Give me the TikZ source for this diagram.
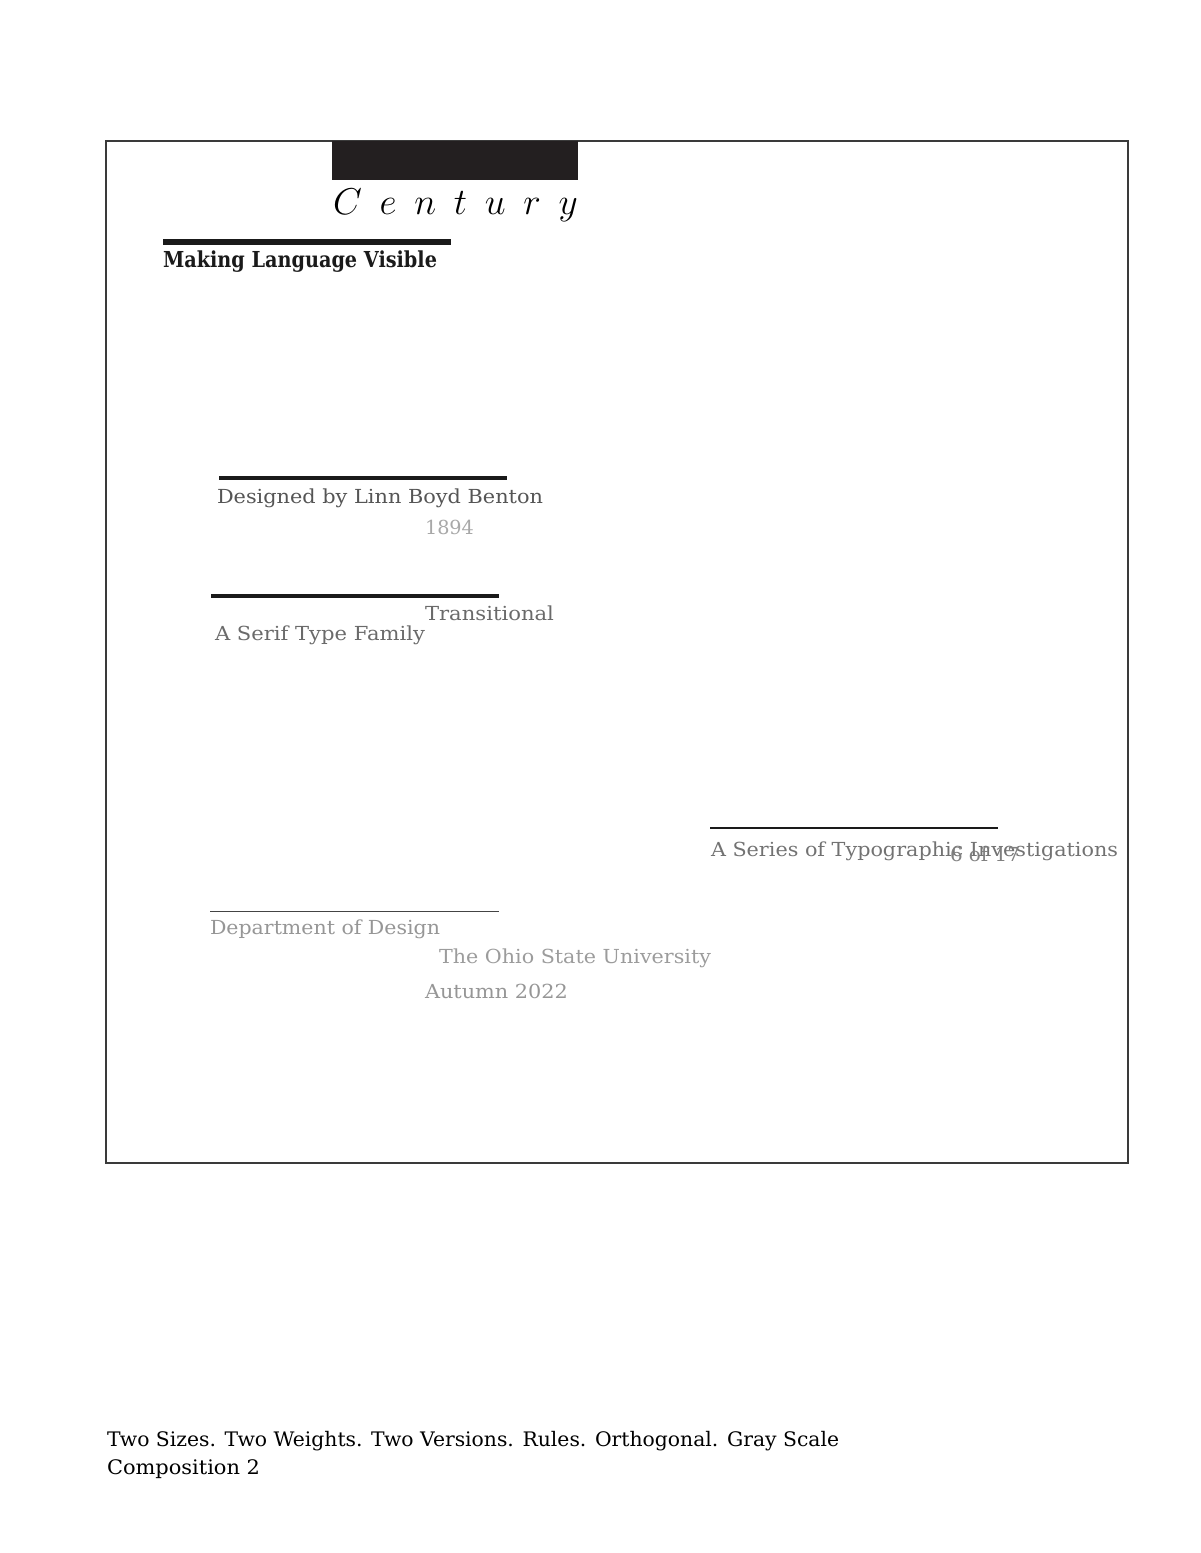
\RequirePackage{fix-cm}
\documentclass[tikz,border=0pt]{standalone}
\usepackage{fontspec}
\setmainfont{DejaVu Serif}
\usepackage{graphicx}
\newcommand{\fitw}[2]{\resizebox{#1}{\height}{#2}}
\definecolor{barblack}{HTML}{231F20}
\definecolor{rulecol}{HTML}{1A1A1A}
\definecolor{thinrule}{HTML}{444444}
\definecolor{framecol}{HTML}{3A3A3A}
\definecolor{gdark}{HTML}{555555}
\definecolor{gmid}{HTML}{6A6A6A}
\definecolor{gseries}{HTML}{727272}
\definecolor{gsix}{HTML}{808080}
\definecolor{glight}{HTML}{969696}
\definecolor{glighter}{HTML}{9C9C9C}
\definecolor{gyear}{HTML}{A8A8A8}
\begin{document}
\begin{tikzpicture}[x=0.75pt,y=-0.75pt,
  txt/.style={inner sep=0pt,outer sep=0pt,anchor=base west,font=\fontsize{14.5}{17}\selectfont},
  rulebar/.style={draw=rulecol,line cap=butt}]
\useasboundingbox (0,0) rectangle (1200,1553);
% frame
\draw[framecol,line width=0.8pt] (106,141) rectangle (1128,1163);
% black bar
\fill[barblack] (332,141) rectangle (578,180);
% Century
\node[txt,text=black,font=\fontsize{28}{30}\selectfont] (century) at (333,214)
  {\makebox[183.75pt][s]{$C$\hfill$e$\hfill$n$\hfill$t$\hfill$u$\hfill$r$\hfill$y$}};
% rule 1
\draw[rulebar,line width=4.2pt] (163,242) -- (451,242);
\node[txt,text=rulecol,font=\fontsize{16.5}{19}\selectfont\bfseries] (making) at (163,267)
  {\fitw{205.5pt}{Making Language Visible}};
% rule 2
\draw[rulebar,line width=2.7pt] (219,477.7) -- (507,477.7);
\node[txt,text=gdark] (designed) at (217,503) {\fitw{244.5pt}{Designed by Linn Boyd Benton}};
\node[txt,text=gyear] (year) at (425,534) {\fitw{36.75pt}{1894}};
% rule 3
\draw[rulebar,line width=2.7pt] (211,596) -- (499,596);
\node[txt,text=gmid] (trans) at (425,620) {\fitw{96.75pt}{Transitional}};
\node[txt,text=gmid] (serif) at (215,640) {\fitw{157.5pt}{A Serif Type Family}};
% rule 4
\draw[rulebar,line width=2pt] (710,828) -- (998,828);
\node[txt,text=gseries] (series) at (711,856) {\fitw{305.25pt}{A Series of Typographic Investigations}};
\node[txt,text=gsix] (six) at (950,861) {\fitw{52.5pt}{6 of 17}};
% rule 5
\draw[draw=thinrule,line width=1pt] (210,911.7) -- (499,911.7);
\node[txt,text=glight] (dept) at (210,934) {\fitw{172.5pt}{Department of Design}};
\node[txt,text=glighter] (osu) at (439,963) {\fitw{204pt}{The Ohio State University}};
\node[txt,text=glight] (autumn) at (425,998) {\fitw{107.25pt}{Autumn 2022}};
% bottom caption
\node[txt,text=black,font=\fontsize{15}{18}\selectfont] (cap1) at (107,1446) {\fitw{549pt}{Two Sizes. Two Weights. Two Versions. Rules. Orthogonal. Gray Scale}};
\node[txt,text=black,font=\fontsize{15}{18}\selectfont] (cap2) at (107,1474) {\fitw{114.75pt}{Composition 2}};
\end{tikzpicture}
\end{document}
